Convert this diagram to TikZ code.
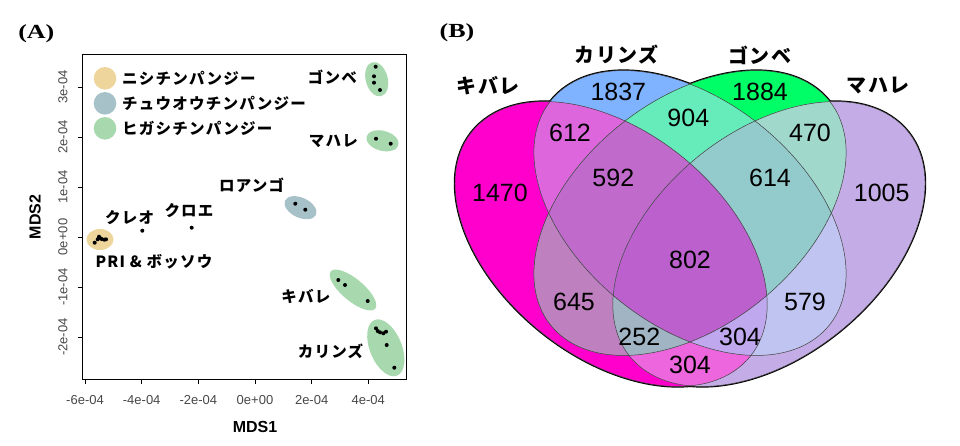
\documentclass[tikz,border=0pt]{standalone}
\usepackage{fontspec}
\setmainfont{Liberation Serif}
\setsansfont{Liberation Sans}
\newfontfamily\jp{Noto Sans CJK JP}[LetterSpace=8]
% cluster colours of panel A
\definecolor{nishi}{HTML}{EDD59B}
\definecolor{chuo}{HTML}{A7C1C8}
\definecolor{higashi}{HTML}{A8D8AE}
% region colours of panel B
\definecolor{cA}{HTML}{FF00CC}
\definecolor{cB}{HTML}{80B3FF}
\definecolor{cC}{HTML}{00FF66}
\definecolor{cD}{HTML}{C4ADE6}
\definecolor{cAB}{HTML}{DD66DD}
\definecolor{cAC}{HTML}{BE80BE}
\definecolor{cAD}{HTML}{EE66DD}
\definecolor{cBC}{HTML}{66EBBB}
\definecolor{cBD}{HTML}{C0C4F0}
\definecolor{cCD}{HTML}{A0D8CC}
\definecolor{cABC}{HTML}{C06ACC}
\definecolor{cABD}{HTML}{C0A8EE}
\definecolor{cACD}{HTML}{A0B4C4}
\definecolor{cBCD}{HTML}{93CACC}
\definecolor{cABCD}{HTML}{BB60CC}
\newcommand\panellab[1]{\scalebox{1.3}[1]{#1}}
\tikzset{
  panel/.style={font=\rmfamily\bfseries\fontsize{20}{24}\selectfont, inner sep=0pt},
  lab/.style={font=\jp\bfseries\fontsize{15.5}{18}\selectfont, inner sep=0pt},
  setlab/.style={font=\jp\bfseries\fontsize{20}{24}\selectfont, inner sep=0pt},
  num/.style={font=\sffamily\fontsize{25}{30}\selectfont, inner sep=0pt},
  tick/.style={font=\sffamily\fontsize{13}{15}\selectfont, text=black!72, inner sep=0pt},
  axlab/.style={font=\sffamily\bfseries\fontsize{16}{19}\selectfont, inner sep=0pt},
  kib/.style={shift={(-72,31)}, rotate=-45},
  kar/.style={rotate=-45},
  gom/.style={rotate=45},
  mah/.style={shift={(72,31)}, rotate=45},
}
\begin{document}
\begin{tikzpicture}[x=1pt, y=-1pt]
  \useasboundingbox (0,0) rectangle (960,445);
  \node[panel] (pA) at (36.3,33.7) {\panellab{(A)}};
  \node[panel] (pB) at (457,32.5) {\panellab{(B)}};

  % --- panel A: MDS plot
  \draw[line width=1.2pt] (82.7,54.3) rectangle (406.7,379.3);
  \foreach \v/\t in {-6/-6e-04,-4/-4e-04,-2/-2e-04,0/0e+00,2/2e-04,4/4e-04} {
    \draw[line width=0.8pt] (255+28.33*\v,379.3) -- ++(0,5);
    \node[tick] (xt\v) at (255+28.33*\v,400) {\t};
  }
  \foreach \v/\t in {-2/-2e-04,-1/-1e-04,0/0e+00,1/1e-04,2/2e-04,3/3e-04} {
    \draw[line width=0.8pt] (82.7,237-50*\v) -- ++(-5,0);
    \node[tick, rotate=90] (yt\v) at (63,237-50*\v) {\t};
  }
  \node[axlab] (mds1) at (255,427) {MDS1};
  \node[axlab, rotate=90] (mds2) at (35,217) {MDS2};

  % legend
  \fill[nishi] (105,78.3) circle (11.3);
  \fill[chuo] (105,103.3) circle (11.3);
  \fill[higashi] (105,128.3) circle (11.3);
  \node[lab, anchor=west] (leg1) at (122,78.3) {ニシチンパンジー};
  \node[lab, anchor=west] (leg2) at (122,103.3) {チュウオウチンパンジー};
  \node[lab, anchor=west] (leg3) at (122,128.3) {ヒガシチンパンジー};

  % clusters
  \fill[higashi, rotate around={15:(376.7,79.2)}] (376.7,79.2) ellipse (11 and 17.5);
  \fill[higashi, rotate around={-15:(382.5,140.8)}] (382.5,140.8) ellipse (16.5 and 10);
  \fill[chuo, rotate around={-25:(300.5,207.7)}] (300.5,207.7) ellipse (17 and 10);
  \fill[nishi] (100,239.5) ellipse (13.5 and 10.5);
  \fill[higashi, rotate around={-40:(353,290)}] (353,290) ellipse (29 and 11);
  \fill[higashi, rotate around={22:(385.8,347.8)}] (385.8,347.8) ellipse (16 and 30);
  \foreach \p in {(375.7,66.7),(374,76.3),(374,82.7),(380,90),(376,138.7),(390.7,143.7),
      (295.3,203.7),(305.3,209.7),(142.3,230.7),(191.7,227.7),
      (94.7,242.7),(99,236.7),(101.7,239),(104.3,239.7),(97.7,239.3),(106,239.3),(100,238),
      (338.3,280),(345,285),(367.7,301),
      (376,328.3),(377.7,331),(380,332.3),(383.3,333.3),(386,331.7),(386.7,345),(394.3,367.7)}
    \fill \p circle (2);
  \node[lab, anchor=east] (gombeA) at (357,77) {ゴンベ};
  \node[lab, anchor=east] (mahaleA) at (358,141) {マハレ};
  \node[lab] (loango) at (251.7,185) {ロアンゴ};
  \node[lab] (cleo) at (129.7,218) {クレオ};
  \node[lab] (chloe) at (189,210.7) {クロエ};
  \node[lab] (bossou) at (154,261.7) {PRI \& ボッソウ};
  \node[lab] (kibaleA) at (305.8,296.7) {キバレ};
  \node[lab] (kalinzuA) at (330.5,351.7) {カリンズ};

  % --- panel B: four-set Venn
  \begin{scope}[shift={(690,213)}, xscale=1.096]
    \foreach \ea in {kib,kar,gom,mah}
      \draw[\ea, line width=2.4pt] (0,0) ellipse (170 and 108);
    \foreach \ea/\col in {kib/cA,kar/cB,gom/cC,mah/cD}
      \fill[\ea, \col] (0,0) ellipse (170 and 108);
    \foreach \ea/\eb/\col in {kib/kar/cAB,kib/gom/cAC,kib/mah/cAD,kar/gom/cBC,kar/mah/cBD,gom/mah/cCD} {
      \begin{scope}
        \clip[\ea] (0,0) ellipse (170 and 108);
        \fill[\eb, \col] (0,0) ellipse (170 and 108);
      \end{scope}
    }
    \foreach \ea/\eb/\ec/\col in {kib/kar/gom/cABC,kib/kar/mah/cABD,kib/gom/mah/cACD,kar/gom/mah/cBCD} {
      \begin{scope}
        \clip[\ea] (0,0) ellipse (170 and 108);
        \clip[\eb] (0,0) ellipse (170 and 108);
        \fill[\ec, \col] (0,0) ellipse (170 and 108);
      \end{scope}
    }
    \begin{scope}
      \clip[kib] (0,0) ellipse (170 and 108);
      \clip[kar] (0,0) ellipse (170 and 108);
      \clip[gom] (0,0) ellipse (170 and 108);
      \fill[mah, cABCD] (0,0) ellipse (170 and 108);
    \end{scope}
    \foreach \ea in {kib,kar,gom,mah}
      \draw[\ea, line width=0.5pt, black!75] (0,0) ellipse (170 and 108);
  \end{scope}

  \node[setlab] (kibaleB) at (488.3,86) {キバレ};
  \node[setlab] (kalinzuB) at (616.7,55) {カリンズ};
  \node[setlab] (gombeB) at (760,55) {ゴンベ};
  \node[setlab] (mahaleB) at (878.3,86) {マハレ};
  \node[num] (n1837) at (618.3,91.7) {1837};
  \node[num] (n1884) at (760,91.7) {1884};
  \node[num] (n904) at (688.3,118.3) {904};
  \node[num] (n612) at (570,132.7) {612};
  \node[num] (n470) at (810,132.7) {470};
  \node[num] (n592) at (613.3,178.3) {592};
  \node[num] (n614) at (770,178.3) {614};
  \node[num] (n1470) at (500,193.3) {1470};
  \node[num] (n1005) at (881.7,193.3) {1005};
  \node[num] (n802) at (690,260) {802};
  \node[num] (n645) at (574,301.7) {645};
  \node[num] (n579) at (805,301.7) {579};
  \node[num] (n252) at (639.3,336.7) {252};
  \node[num] (n304r) at (740,336.7) {304};
  \node[num] (n304b) at (690,365) {304};
\end{tikzpicture}
\end{document}
